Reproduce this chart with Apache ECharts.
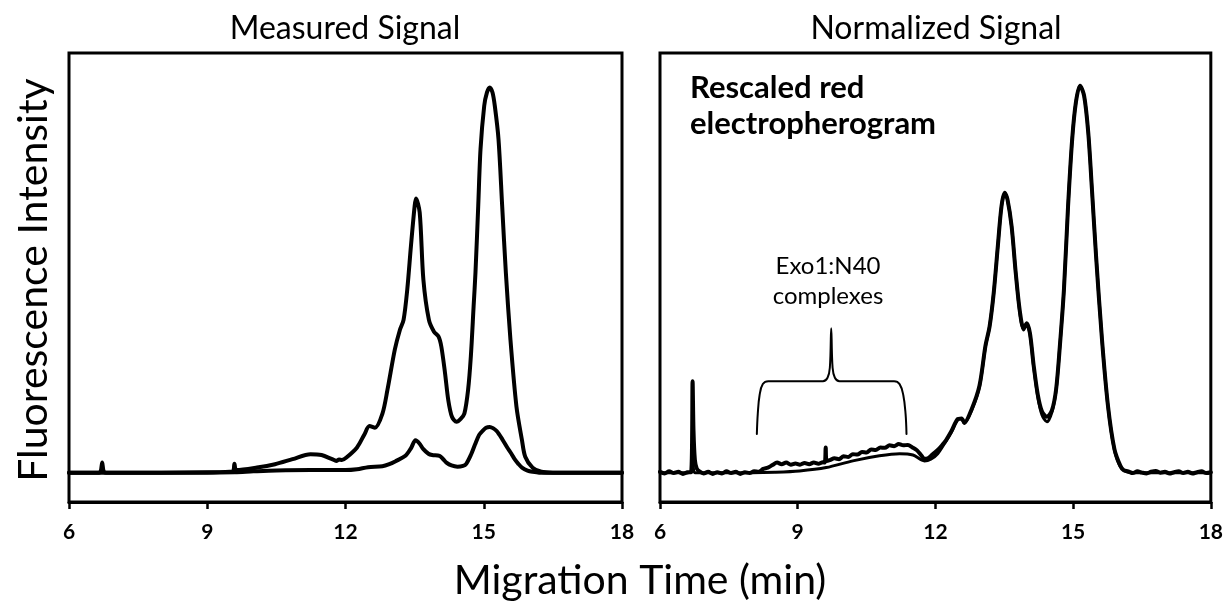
<!DOCTYPE html>
<html>
<head>
<meta charset="utf-8">
<script src="https://cdn.jsdelivr.net/npm/echarts@6/dist/echarts.min.js"></script>
<style>
html,body{margin:0;padding:0;background:#fff;}
#chart{width:1226px;height:606px;}
</style>
</head>
<body>
<div id="chart"></div>
<script>
// ---- data (migration time in min, relative fluorescence) ----
const xTicks = [6, 9, 12, 15, 18];
const panelTitles = ['Measured Signal', 'Normalized Signal'];

const measuredUpper = [
  [6.0,0],[6.65,0],[6.69,0.4],[6.72,2.4],[6.75,0.4],[6.8,0],[8.0,0],[9.0,0.1],[9.55,0.3],[9.59,2.1],[9.63,0.6],
  [10.08,1.2],[10.47,2.0],[10.85,3.2],[11.24,4.4],[11.48,4.2],[11.71,3.2],[11.8,2.8],[11.86,3.1],[11.92,3.0],
  [12.02,3.6],[12.25,6.0],[12.41,9.1],[12.52,11.1],[12.64,10.7],[12.8,14.0],[12.91,19.7],[13.07,29.3],[13.18,34.0],
  [13.26,36.4],[13.34,43.6],[13.42,54],[13.5,63.5],[13.53,65.3],[13.61,62],[13.69,46],[13.81,36.4],[13.92,33.6],
  [14.02,32.4],[14.08,30],[14.16,23.7],[14.23,17.3],[14.31,13.3],[14.41,12.1],[14.5,12.8],[14.58,14.1],[14.66,19.7],
  [14.72,27.7],[14.78,39.6],[14.82,47.6],[14.88,63.5],[14.93,77.1],[15.01,87.4],[15.07,90.6],[15.13,91.8],[15.19,90.6],
  [15.24,87.4],[15.32,79.5],[15.40,63.5],[15.48,47.6],[15.58,31.6],[15.71,15.7],[15.83,7.7],[15.9,3.8],[16.06,1.2],
  [16.25,0.2],[16.5,0],[18.0,0]
];
const measuredLower = [
  [6.0,0],[9.0,0],[9.6,0.1],[10.0,0.3],[10.5,0.5],[11.24,0.6],[12.0,0.6],[12.25,0.8],[12.49,1.3],[12.8,1.5],
  [12.95,2.0],[13.1,2.8],[13.3,4.0],[13.42,5.8],[13.52,7.7],[13.6,7.0],[13.69,5.6],[13.8,4.5],[13.88,4.2],[14.04,4.0],
  [14.12,3.2],[14.19,2.4],[14.3,1.7],[14.43,1.4],[14.55,1.6],[14.62,2.1],[14.72,4.2],[14.81,6.7],[14.9,9.0],
  [14.97,9.9],[15.05,10.7],[15.13,10.9],[15.2,10.6],[15.28,9.9],[15.4,8.0],[15.51,6.0],[15.6,4.5],[15.67,3.2],
  [15.75,2.1],[15.83,1.2],[15.95,0.5],[16.06,0.2],[16.2,0],[18.0,0]
];
const normalizedReference = [
  [6.0,0],[6.68,0],[6.72,1.5],[6.76,0],[8.0,0],[8.5,0.1],[9.04,0.4],[9.62,1.2],[10.2,2.8],[10.78,4.0],[11.22,4.5],
  [11.51,4.2],[11.76,2.8],[11.9,3.2],[12.05,4.5],[12.23,7.5],[12.35,9.7],[12.48,12.5],[12.57,12.9],[12.63,11.7],
  [12.79,14.9],[12.96,20.5],[13.09,30],[13.18,34.8],[13.27,42.8],[13.36,54],[13.44,63.5],[13.51,66.7],[13.57,65.1],
  [13.66,58.7],[13.75,47.6],[13.84,38],[13.92,34],[13.99,35.2],[14.06,33],[14.14,25.3],[14.23,18.1],[14.32,13.8],
  [14.43,12.1],[14.54,14.5],[14.63,19.7],[14.71,30],[14.8,43.6],[14.89,63.5],[14.98,79.5],[15.06,88.2],[15.15,92.2],
  [15.24,89.8],[15.33,81],[15.41,67.5],[15.5,51.6],[15.63,31.6],[15.76,15.7],[15.9,5.4],[16.03,1.4],[16.2,0.1],
  [16.4,0],[18.0,0]
];
const rescaledRed = [
  [6.0,0.2],[6.1,-0.2],[6.2,0.3],[6.3,-0.1],[6.4,0.2],[6.5,-0.3],[6.6,0.1],[6.68,0.2],[6.71,21.8],[6.73,10],
  [6.76,3],[6.8,1.0],[6.86,0.3],[6.95,-0.2],[7.05,0.2],[7.15,-0.3],[7.25,0.1],[7.35,-0.2],[7.45,0.3],[7.55,-0.1],
  [7.65,0.2],[7.75,-0.3],[7.85,0.1],[7.95,-0.1],[8.05,0.3],[8.15,0.2],[8.25,0.9],[8.35,1.2],[8.45,1.8],[8.55,2.4],
  [8.65,2.0],[8.75,2.4],[8.85,1.9],[8.95,2.2],[9.05,1.9],[9.15,2.3],[9.25,2.0],[9.35,2.4],[9.45,2.1],[9.55,2.5],
  [9.59,2.4],[9.61,6.0],[9.63,2.8],[9.7,3.0],[9.8,3.4],[9.9,3.2],[10.0,3.9],[10.1,3.7],[10.2,4.4],[10.3,4.3],
  [10.4,4.9],[10.5,4.8],[10.6,5.5],[10.7,5.4],[10.8,6.0],[10.9,5.9],[11.0,6.5],[11.1,6.3],[11.2,6.8],[11.3,6.5],
  [11.4,6.6],[11.5,6.0],[11.6,5.3],[11.7,4.0],[11.76,3.3],[11.85,3.5],[11.94,4.4],[12.05,5.4],[12.15,6.6],
  [12.23,7.7],[12.35,9.9],[12.48,12.7],[12.57,12.9],[12.63,11.9],[12.79,15.1],[12.96,20.7],[13.09,30.2],
  [13.18,34.8],[13.27,42.8],[13.36,54],[13.44,63.5],[13.51,66.7],[13.57,65.1],[13.66,58.7],[13.75,47.6],
  [13.84,38.4],[13.92,34.4],[13.99,35.6],[14.06,33.2],[14.14,25.6],[14.23,18.6],[14.32,14.6],[14.43,13.3],
  [14.54,14.9],[14.63,19.9],[14.71,30],[14.8,43.6],[14.89,63.5],[14.98,79.5],[15.06,88.2],[15.15,92.2],
  [15.24,89.8],[15.33,81],[15.41,67.5],[15.5,51.6],[15.63,31.6],[15.76,15.9],[15.9,5.6],[16.03,1.6],[16.1,0.6],
  [16.2,0.3],[16.3,-0.1],[16.4,0.3],[16.5,0],[16.6,-0.2],[16.7,0.2],[16.8,0.4],[16.9,0],[17.0,0.2],[17.1,-0.2],
  [17.2,0.1],[17.3,0.3],[17.4,-0.1],[17.5,0.2],[17.6,-0.2],[17.7,0.1],[17.8,0.3],[17.9,-0.1],[18.0,0.1]
];
// bracket marking the Exo1:N40 complexes (data coordinates of right panel)
const bracketPath = [
  [8.11,9.2],[8.13,14],[8.17,18.5],[8.24,21.1],[8.36,21.8],[9.55,21.8],[9.65,22.6],[9.7,25],[9.73,34.4],
  [9.76,25],[9.81,22.6],[9.91,21.8],[11.1,21.8],[11.22,21.1],[11.3,18.5],[11.35,14],[11.37,9.2]
];
const annotationTexts = ['Rescaled red\nelectropherogram', 'Exo1:N40\ncomplexes'];
const axisTitles = ['Fluorescence Intensity', 'Migration Time (min)'];

// ---- chart ----
const FONT = 'Lato, "Open Sans", sans-serif';
const chart = echarts.init(document.getElementById('chart'), null, {renderer: 'canvas'});

function xAxisCfg(gi) {
  return {
    type: 'value', gridIndex: gi, min: xTicks[0], max: xTicks[xTicks.length - 1], interval: 3,
    axisLine: {show: true, onZero: false, lineStyle: {color: '#000', width: 3}},
    axisTick: {show: true, inside: false, length: 7, lineStyle: {color: '#000', width: 2.5}},
    axisLabel: {show: true, color: '#000', fontFamily: FONT, fontWeight: 'bold', fontSize: 21, margin: 20},
    splitLine: {show: false}
  };
}
function yAxisCfg(gi) {
  return {
    type: 'value', gridIndex: gi, min: -7, max: 100,
    axisLine: {show: false}, axisTick: {show: false}, axisLabel: {show: false}, splitLine: {show: false}
  };
}
function lineSeries(name, data, xi, width) {
  return {
    name: name, type: 'line', xAxisIndex: xi, yAxisIndex: xi, data: data,
    showSymbol: false, smooth: 0.3, silent: true, clip: true, animation: false,
    lineStyle: {color: '#000', width: width, join: 'round', cap: 'round'}
  };
}

chart.setOption({
  backgroundColor: '#fff',
  animation: false,
  grid: [
    {left: 69, top: 53, width: 553, height: 449, show: true, borderColor: '#000', borderWidth: 3, backgroundColor: 'transparent'},
    {left: 660, top: 53, width: 552, height: 449, show: true, borderColor: '#000', borderWidth: 3, backgroundColor: 'transparent'}
  ],
  xAxis: [xAxisCfg(0), xAxisCfg(1)],
  yAxis: [yAxisCfg(0), yAxisCfg(1)],
  series: [
    lineSeries('Measured upper', measuredUpper, 0, 4),
    lineSeries('Measured lower', measuredLower, 0, 4),
    lineSeries('Normalized reference', normalizedReference, 1, 3),
    lineSeries('Rescaled red', rescaledRed, 1, 4),
    Object.assign(lineSeries('Bracket', bracketPath, 1, 2), {smooth: 0.4})
  ],
  graphic: [
    {type: 'text', x: 345, y: 29, style: {text: panelTitles[0], fill: '#000', font: '32px ' + FONT, align: 'center', verticalAlign: 'middle'}},
    {type: 'text', x: 936, y: 29, style: {text: panelTitles[1], fill: '#000', font: '32px ' + FONT, align: 'center', verticalAlign: 'middle'}},
    {type: 'text', x: 34, y: 280, rotation: Math.PI / 2, style: {text: axisTitles[0], fill: '#000', font: '41px ' + FONT, align: 'center', verticalAlign: 'middle'}},
    {type: 'text', x: 640, y: 581, style: {text: axisTitles[1], fill: '#000', font: '41px ' + FONT, align: 'center', verticalAlign: 'middle'}},
    {type: 'text', x: 690, y: 70, style: {text: annotationTexts[0], fill: '#000', font: 'bold 31px ' + FONT, lineHeight: 36, align: 'left', verticalAlign: 'top'}},
    {type: 'text', x: 828, y: 281, style: {text: annotationTexts[1], fill: '#000', font: '24px ' + FONT, lineHeight: 30, align: 'center', verticalAlign: 'middle'}}
  ]
});
</script>
</body>
</html>
